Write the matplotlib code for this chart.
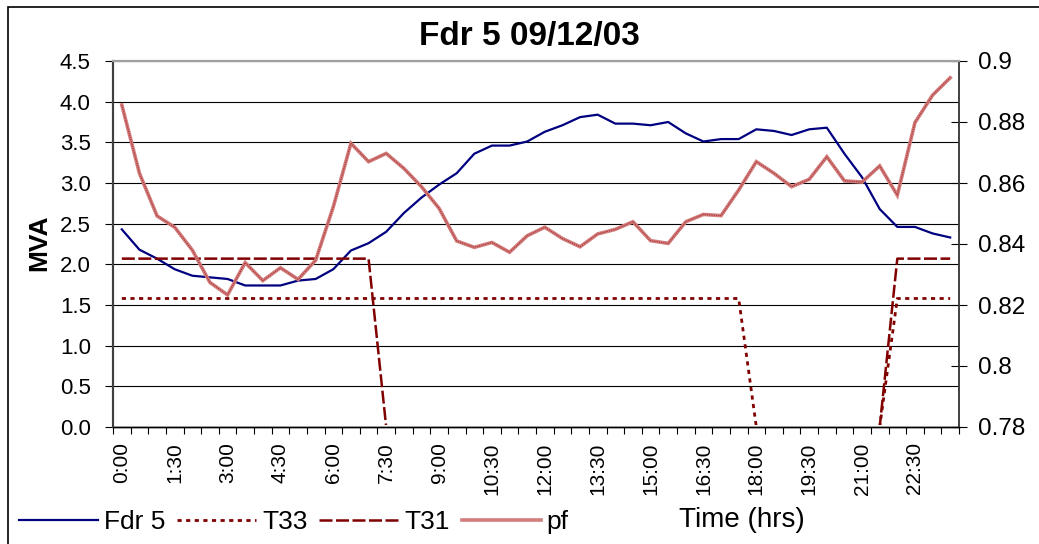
"""Fdr 5 daily load / power factor chart."""

import matplotlib

matplotlib.use("Agg")

import matplotlib.pyplot as plt
import numpy as np
from matplotlib.patches import Rectangle

plt.rcParams["font.family"] = ["Liberation Sans", "DejaVu Sans"]

# half-hour slots, 0:00 .. 23:30
slot_count = 48
tick_labels = ["0:00", "1:30", "3:00", "4:30", "6:00", "7:30", "9:00", "10:30",
               "12:00", "13:30", "15:00", "16:30", "18:00", "19:30", "21:00", "22:30"]

fdr5 = [2.43, 2.18, 2.07, 1.94, 1.86, 1.84, 1.82, 1.74, 1.74, 1.74,
        1.80, 1.82, 1.94, 2.17, 2.26, 2.40, 2.63, 2.82, 2.98, 3.12,
        3.36, 3.46, 3.46, 3.51, 3.63, 3.71, 3.81, 3.84, 3.73, 3.73,
        3.71, 3.75, 3.61, 3.51, 3.54, 3.54, 3.66, 3.64, 3.59, 3.66,
        3.68, 3.36, 3.07, 2.68, 2.46, 2.46, 2.38, 2.33]

t33 = [1.58, 1.58, 1.58, 1.58, 1.58, 1.58, 1.58, 1.58, 1.58, 1.58,
       1.58, 1.58, 1.58, 1.58, 1.58, 1.58, 1.58, 1.58, 1.58, 1.58,
       1.58, 1.58, 1.58, 1.58, 1.58, 1.58, 1.58, 1.58, 1.58, 1.58,
       1.58, 1.58, 1.58, 1.58, 1.58, 1.58, 0.0, 0.0, 0.0, 0.0,
       0.0, 0.0, 0.0, 0.0, 1.58, 1.58, 1.58, 1.58]

t31 = [2.07, 2.07, 2.07, 2.07, 2.07, 2.07, 2.07, 2.07, 2.07, 2.07,
       2.07, 2.07, 2.07, 2.07, 2.07, 0.0, 0.0, 0.0, 0.0, 0.0,
       0.0, 0.0, 0.0, 0.0, 0.0, 0.0, 0.0, 0.0, 0.0, 0.0,
       0.0, 0.0, 0.0, 0.0, 0.0, 0.0, 0.0, 0.0, 0.0, 0.0,
       0.0, 0.0, 0.0, 0.0, 2.07, 2.07, 2.07, 2.07]

pf = [0.8856, 0.8632, 0.8492, 0.8455, 0.8380, 0.8274, 0.8233, 0.8339, 0.8280, 0.8322,
      0.8284, 0.8347, 0.8522, 0.8730, 0.8670, 0.8697, 0.8648, 0.8588, 0.8517, 0.8410,
      0.8389, 0.8405, 0.8373, 0.8427, 0.8455, 0.8418, 0.8391, 0.8433, 0.8448, 0.8473,
      0.8411, 0.8402, 0.8473, 0.8497, 0.8493, 0.8577, 0.8670, 0.8632, 0.8588, 0.8612,
      0.8686, 0.8607, 0.8603, 0.8656, 0.8560, 0.8798, 0.8888, 0.8945]

mva_ticks = [0.0, 0.5, 1.0, 1.5, 2.0, 2.5, 3.0, 3.5, 4.0, 4.5]
pf_ticks = [0.78, 0.80, 0.82, 0.84, 0.86, 0.88, 0.90]

W, H = 1039, 544
fig = plt.figure(figsize=(W / 100, H / 100), dpi=100)
ax = fig.add_axes([113 / W, 1 - 427 / H, (959 - 113) / W, (427 - 61) / H])
ax2 = ax.twinx()

x = np.arange(slot_count)
dark_red = "#800000"

l_fdr, = ax.plot(x, fdr5, color="#000080", lw=1.6, label="Fdr 5")
l_t33, = ax.plot(x, t33, color=dark_red, lw=2.0, dashes=(1.5, 1.6), label="T33")
l_t31, = ax.plot(x, t31, color=dark_red, lw=1.8, dashes=(5.2, 1.4), label="T31")
l_pf, = ax2.plot(x, pf, color="#d27c7c", lw=2.6, label="pf", solid_joinstyle="miter")
ax2.plot(x, pf, color="#a83030", lw=0.8, dashes=(1, 1))

# the zero stretches of the transformer lines sit under the category axis
hide_zero = Rectangle((0, 0.005), 1, 1.2, transform=ax.transAxes)
for line in (l_t33, l_t31):
    line.set_clip_path(hide_zero)

ax.set_xlim(-0.5, slot_count - 0.5)
ax.set_ylim(0, 4.5)
ax2.set_ylim(0.78, 0.9)

ax.set_xticks(np.arange(0, slot_count, 3))
ax.set_xticklabels(tick_labels, rotation=90, fontsize=15)
ax.set_xticks(np.arange(-0.5, slot_count, 1), minor=True)
ax.tick_params(axis="x", which="major", length=0, pad=11)
ax.tick_params(axis="x", which="minor", length=5, width=0.8, direction="out")

ax.set_yticks(mva_ticks)
ax.set_yticklabels([f"{v:.1f}" for v in mva_ticks], fontsize=16)
ax.tick_params(axis="y", length=6, width=0.8, pad=10)
ax.yaxis.grid(True, color="black", lw=0.8)

ax2.set_yticks(pf_ticks)
ax2.set_yticklabels([f"{v:g}" for v in pf_ticks], fontsize=17.5)
ax2.tick_params(axis="y", direction="inout", length=12, width=0.8, pad=8)

for a in (ax, ax2):
    a.spines["top"].set_color("#a0a0a0")
    a.spines["top"].set_linewidth(1.5)
    a.spines["left"].set_color("#404040")
    a.spines["left"].set_linewidth(1.5)
    a.spines["right"].set_color("#404040")
    a.spines["right"].set_linewidth(1.2)
    a.spines["bottom"].set_color("black")
    a.spines["bottom"].set_linewidth(1.0)

fig.text(529 / W, 1 - 36 / H, "Fdr 5 09/12/03", fontsize=24, fontweight="bold",
         ha="center", va="center")
fig.text(39 / W, 1 - 243 / H, "MVA", fontsize=19, fontweight="bold",
         rotation=90, ha="center", va="center")
fig.text(742 / W, 1 - 520 / H, "Time (hrs)", fontsize=20, ha="center", va="center")

fig.legend(handles=[l_fdr, l_t33, l_t31, l_pf], loc="center left",
           bbox_to_anchor=(19 / W, 1 - 522 / H), ncol=4, frameon=False,
           fontsize=19, handlelength=3.0, handletextpad=0.22,
           columnspacing=0.45, borderpad=0, borderaxespad=0)

fig.add_artist(Rectangle((8 / W, -0.1), 1.2, (H - 7) / H + 0.1,
                         transform=fig.transFigure, fill=False,
                         edgecolor="black", lw=1.2))

fig.savefig("out.png", dpi=100)
